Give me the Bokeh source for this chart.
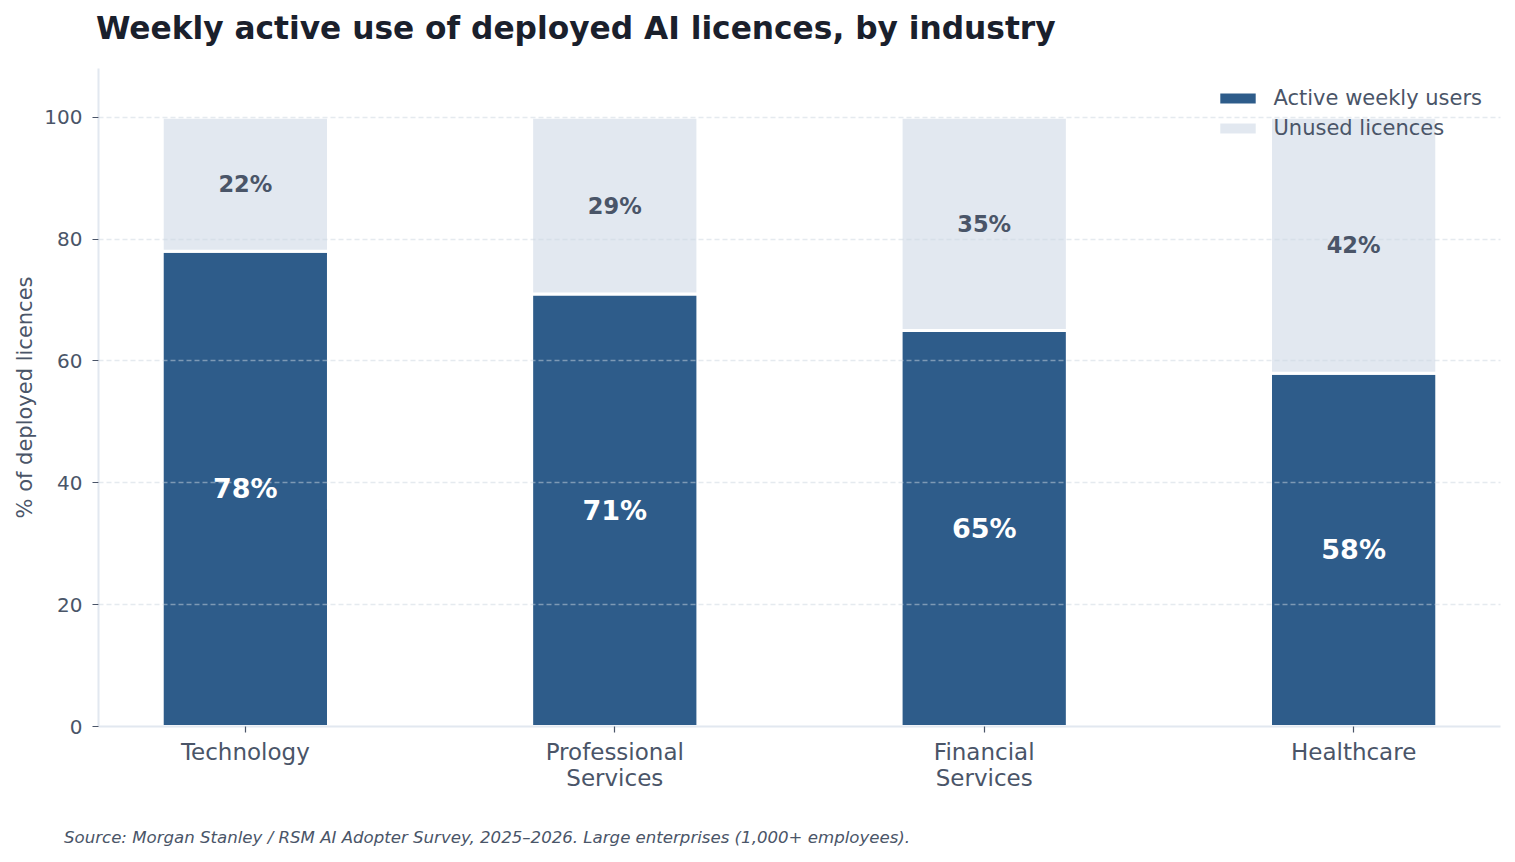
from bokeh.plotting import figure
from bokeh.models import (ColumnDataSource, Range1d, FixedTicker, LabelSet, Legend,
                          LegendItem, Div)
from bokeh.layouts import column
from bokeh.embed import file_html
from bokeh.resources import INLINE
from bokeh.core.properties import value

# ---- data ----
industries = ["Technology", "Professional\nServices", "Financial\nServices", "Healthcare"]
active = [78, 71, 65, 58]
unused = [22, 29, 35, 42]
y_ticks = [0, 20, 40, 60, 80, 100]

TITLE = "Weekly active use of deployed AI licences, by industry"
SOURCE = "Source: Morgan Stanley / RSM AI Adopter Survey, 2025\u20132026. Large enterprises (1,000+ employees)."

DARK = "#2e5c8a"
LIGHT = "#e2e8f0"
TXT = "#4a5568"
FONT = "DejaVu Sans"

xs = list(range(len(industries)))
src = ColumnDataSource(dict(
    x=xs,
    active=active,
    unused=unused,
    top=[a + u for a, u in zip(active, unused)],
    amid=[a / 2 for a in active],
    umid=[a + u / 2 for a, u in zip(active, unused)],
    alab=[f"{a}%" for a in active],
    ulab=[f"{u}%" for u in unused],
))

W = 1507
BL, BR, BT, BB = 98, 7, 10, 80
FRAME_H = 658

bw = 0.45
pad = (len(xs) - 1 + bw) * 0.05
p = figure(width=W, height=FRAME_H + BT + BB, output_backend="svg", toolbar_location=None,
           x_range=Range1d(-bw / 2 - pad, len(xs) - 1 + bw / 2 + pad),
           y_range=Range1d(0, 108),
           min_border_left=BL, min_border_right=BR, min_border_top=BT, min_border_bottom=BB)
p.outline_line_color = None
p.background_fill_color = "white"
p.border_fill_color = "white"

r1 = p.vbar(x="x", top="active", bottom=0, width=bw, source=src,
            fill_color=DARK, line_color="white", line_width=3)
r2 = p.vbar(x="x", top="top", bottom="active", width=bw, source=src,
            fill_color=LIGHT, line_color="white", line_width=3)

# axes
p.xaxis.ticker = FixedTicker(ticks=xs)
p.xaxis.major_label_overrides = {i: lab for i, lab in enumerate(industries)}
p.yaxis.ticker = FixedTicker(ticks=y_ticks)
for ax in (p.xaxis[0], p.yaxis[0]):
    ax.axis_line_color = LIGHT
    ax.axis_line_width = 2
    ax.major_tick_line_color = TXT
    ax.major_tick_line_width = 1.2
    ax.major_tick_out = 6
    ax.major_tick_in = 0
    ax.minor_tick_line_color = None
    ax.major_label_text_color = TXT
    ax.major_label_text_font = FONT
p.xaxis.major_label_text_font_size = "23px"
p.xaxis.major_label_text_line_height = 1.0
p.yaxis.major_label_text_font_size = "20px"
p.xaxis.major_label_standoff = 6
p.yaxis.major_label_standoff = 10
p.yaxis.axis_label = "% of deployed licences"
p.yaxis.axis_label_text_font = FONT
p.yaxis.axis_label_text_font_size = "21px"
p.yaxis.axis_label_text_font_style = "normal"
p.yaxis.axis_label_text_color = TXT
p.yaxis.axis_label_standoff = 4

p.xgrid.visible = False
p.ygrid.ticker = FixedTicker(ticks=y_ticks)
p.ygrid.grid_line_color = "#cbd5e0"
p.ygrid.grid_line_alpha = 0.5
p.ygrid.grid_line_dash = "5 3"
p.ygrid.grid_line_width = 1.3
p.ygrid.level = "annotation"

# bar labels
la = LabelSet(x="x", y="amid", text="alab", source=src, text_align="center",
              text_baseline="middle", text_color="white", text_font=value(FONT),
              text_font_size="27px", text_font_style="bold")
lu = LabelSet(x="x", y="umid", text="ulab", source=src, text_align="center",
              text_baseline="middle", text_color=TXT, text_font=value(FONT),
              text_font_size="22.5px", text_font_style="bold")
p.add_layout(la)
p.add_layout(lu)

legend = Legend(items=[LegendItem(label="Active weekly users", renderers=[r1]),
                       LegendItem(label="Unused licences", renderers=[r2])],
                location="top_right")
legend.background_fill_alpha = 0
legend.border_line_alpha = 0
legend.label_text_font = FONT
legend.label_text_font_size = "21px"
legend.label_text_color = TXT
legend.glyph_width = 48
legend.glyph_height = 16
legend.label_height = 20
legend.spacing = 6
legend.padding = 4
legend.margin = 14
legend.label_standoff = 12
p.add_layout(legend)

title_div = Div(text=TITLE, width=1400, height=48, margin=(10, 0, 0, 96),
                styles={"font-family": "'DejaVu Sans'", "font-size": "31.25px",
                        "font-weight": "bold", "color": "#1a202c",
                        "line-height": "36px", "white-space": "nowrap"})
source_div = Div(text=SOURCE, width=1200, height=20, margin=(22, 0, 0, 64),
                 styles={"font-family": "'DejaVu Sans'", "font-size": "16.6px",
                         "font-style": "italic", "color": TXT,
                         "line-height": "19px", "white-space": "nowrap"})

layout = column(title_div, p, source_div, spacing=0)
open("out.html", "w").write(file_html(layout, INLINE))
